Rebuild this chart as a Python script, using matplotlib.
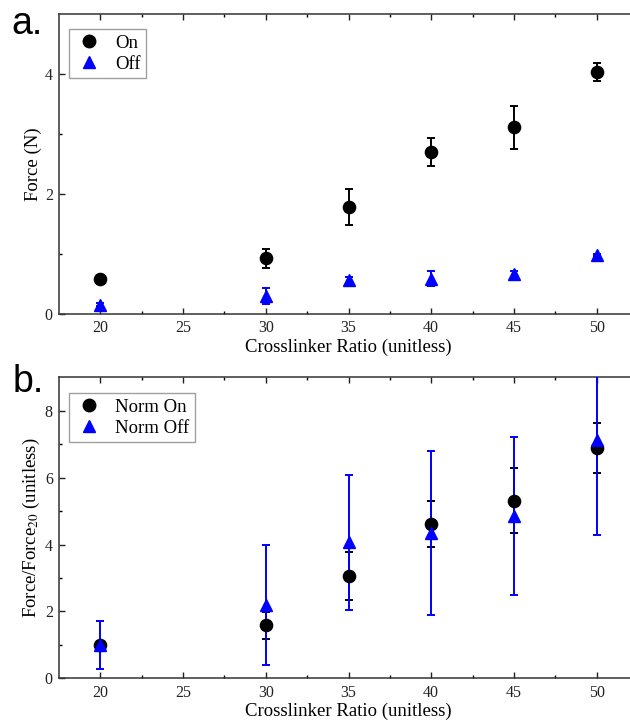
import matplotlib.pyplot as plt
from matplotlib.lines import Line2D

# crosslinker ratio for every measurement
ratio = [20, 30, 35, 40, 45, 50]

# force under on / off conditions (N) with standard deviation
force_on = [0.58, 0.925, 1.79, 2.70, 3.11, 4.03]
force_on_err = [0.02, 0.16, 0.30, 0.23, 0.36, 0.155]
force_off = [0.155, 0.30, 0.56, 0.59, 0.67, 0.985]
force_off_err = [0.02, 0.14, 0.05, 0.12, 0.05, 0.02]

# forces normalised to the ratio-20 value
norm_on = [1.0, 1.58, 3.06, 4.61, 5.31, 6.88]
norm_on_err = [0.05, 0.40, 0.73, 0.69, 0.98, 0.74]
norm_off = [1.0, 2.20, 4.07, 4.35, 4.85, 7.12]
norm_off_err = [0.72, 1.80, 2.02, 2.45, 2.35, 2.84]

plt.rcParams['font.family'] = ['Liberation Serif', 'DejaVu Serif']
plt.rcParams['mathtext.fontset'] = 'stix'

fig = plt.figure(figsize=(6.3, 7.2), dpi=100)
ax_a = fig.add_axes([0.0937, 0.5639, 0.919, 0.4167])
ax_b = fig.add_axes([0.0937, 0.0579, 0.919, 0.4181])


def draw_panel(ax, on, on_err, off, off_err, labels, ylim, yticks, yminor,
               leg_top):
    ax.errorbar(ratio, on, yerr=on_err, fmt='o', color='black', ms=8.8,
                capsize=2.8, elinewidth=1.4, capthick=1.4, zorder=3)
    ax.errorbar(ratio, off, yerr=off_err, fmt='^', color='blue', ms=9,
                capsize=2.8, elinewidth=1.4, capthick=1.4, zorder=3)
    ax.set_xlim(17.5, 52.5)
    ax.set_ylim(*ylim)
    ax.set_xticks([20, 25, 30, 35, 40, 45, 50])
    ax.set_xticks([22.5, 27.5, 32.5, 37.5, 42.5, 47.5], minor=True)
    ax.set_yticks(yticks)
    ax.set_yticks(yminor, minor=True)
    # ticks point into the frame, mirrored on the top edge
    ax.tick_params(which='both', direction='in', top=True, right=False)
    ax.tick_params(which='major', length=4.5, width=1, labelsize=11.5,
                   colors='#222222', pad=4.5)
    ax.tick_params(which='minor', length=2.5, width=1)
    ax.spines['right'].set_visible(False)
    for s in ['left', 'bottom', 'top']:
        ax.spines[s].set_linewidth(1.1)
        ax.spines[s].set_color('#333333')
    ax.set_xlabel('Crosslinker Ratio (unitless)', fontsize=13.5, labelpad=1.5)
    handles = [Line2D([], [], ls='none', marker='o', color='black', ms=9),
               Line2D([], [], ls='none', marker='^', color='blue', ms=9)]
    leg = ax.legend(handles, labels, loc='upper left', fontsize=13.5,
                    frameon=True, fancybox=False, edgecolor='#888888',
                    handletextpad=0.55, borderpad=0.3, labelspacing=0.2,
                    handlelength=1.6, borderaxespad=0,
                    bbox_to_anchor=(0.017, leg_top))
    leg.get_frame().set_linewidth(1.0)


draw_panel(ax_a, force_on, force_on_err, force_off, force_off_err,
           ['On', 'Off'], (0, 5), [0, 2, 4], [1, 3], 0.95)
ax_a.set_ylabel('Force (N)', fontsize=13.5, labelpad=2)

draw_panel(ax_b, norm_on, norm_on_err, norm_off, norm_off_err,
           ['Norm On', 'Norm Off'], (0, 9), [0, 2, 4, 6, 8], [1, 3, 5, 7],
           0.948)
ax_b.set_ylabel('Force/Force$_{20}$ (unitless)', fontsize=13.5, labelpad=2)

fig.text(0.018, 0.953, 'a.', fontsize=27, family='Liberation Sans')
fig.text(0.020, 0.455, 'b.', fontsize=27, family='Liberation Sans')

fig.savefig('out.png', dpi=100)
